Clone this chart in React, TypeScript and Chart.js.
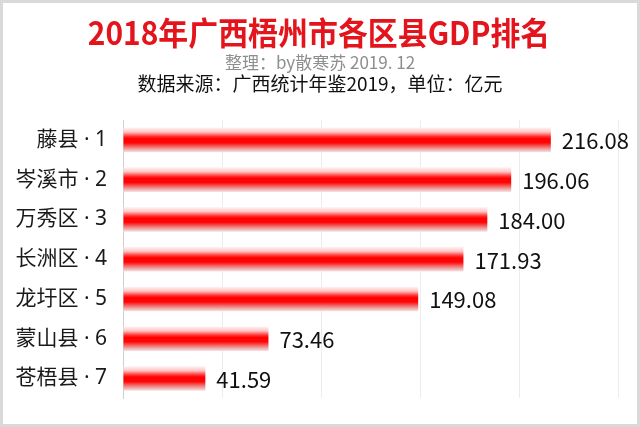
import React, { useEffect, useRef } from "react";
import { Chart, registerables } from "chart.js";

Chart.register(...registerables);

const categories = ["藤县", "岑溪市", "万秀区", "长洲区", "龙圩区", "蒙山县", "苍梧县"];
const ranks = [1, 2, 3, 4, 5, 6, 7];
const gdpValues = [216.08, 196.06, 184.0, 171.93, 149.08, 73.46, 41.59];
const xMin = 0;
const xMax = 250;
const xStep = 50;

const titleText = "2018年广西梧州市各区县GDP排名";
const subtitleText = "整理：by散寒苏 2019. 12";
const sourceText = "数据来源：广西统计年鉴2019，单位：亿元";

const FONT = '"Noto Sans CJK SC", "Noto Sans", sans-serif';
const LABEL_FONT = '"Noto Sans", "Noto Sans CJK SC", sans-serif';
const BAR_PCT = 0.62;

export default function App() {
  const canvasRef = useRef<HTMLCanvasElement | null>(null);

  useEffect(() => {
    const canvas = canvasRef.current;
    if (!canvas) return;

    const labels = categories.map((c, i) => `${c} · ${ranks[i]}`);

    const framePlugin = {
      id: "frameAndTitles",
      beforeDraw(chart: any) {
        const { ctx, width, height } = chart;
        ctx.save();
        ctx.fillStyle = "#ffffff";
        ctx.fillRect(0, 0, width, height);
        ctx.restore();
      },
      afterDraw(chart: any) {
        const { ctx, width, height } = chart;
        ctx.save();
        ctx.strokeStyle = "#d9d9d9";
        ctx.lineWidth = 3;
        ctx.strokeRect(1.5, 1.5, width - 3, height - 3);
        ctx.textAlign = "center";
        ctx.textBaseline = "middle";
        ctx.save();
        ctx.translate(319, 33);
        ctx.scale(0.935, 1);
        ctx.fillStyle = "#e3141c";
        ctx.font = `bold 32px ${FONT}`;
        ctx.fillText(titleText, 0, 0);
        ctx.restore();
        ctx.fillStyle = "#8e8e8e";
        ctx.font = `17px ${FONT}`;
        ctx.fillText(subtitleText, 320, 62.5);
        ctx.fillStyle = "#111111";
        ctx.font = `19px ${FONT}`;
        ctx.fillText(sourceText, 320, 84);
        ctx.restore();
      },
    };

    const valueLabelPlugin = {
      id: "valueLabels",
      afterDatasetsDraw(chart: any) {
        const { ctx } = chart;
        const meta = chart.getDatasetMeta(0);
        ctx.save();
        ctx.fillStyle = "#111111";
        ctx.font = `22px ${FONT}`;
        ctx.textAlign = "left";
        ctx.textBaseline = "middle";
        meta.data.forEach((el: any, i: number) => {
          ctx.fillText(gdpValues[i].toFixed(2), el.x + 11, el.y + 1);
        });
        ctx.restore();
      },
    };

    const chart = new Chart(canvas, {
      type: "bar",
      data: {
        labels,
        datasets: [
          {
            data: gdpValues,
            backgroundColor: (c: any) => {
              const ch = c.chart;
              const y = ch.scales && ch.scales.y;
              if (!y || !ch.chartArea || c.dataIndex === undefined) return "#ff0000";
              const center = y.getPixelForValue(c.dataIndex);
              const cat = Math.abs(y.getPixelForValue(1) - y.getPixelForValue(0)) || 41;
              const half = (cat * BAR_PCT) / 2;
              const g = ch.ctx.createLinearGradient(0, center - half, 0, center + half);
              g.addColorStop(0, "#fff4f4");
              g.addColorStop(0.18, "#ffc4c4");
              g.addColorStop(0.36, "#ff3030");
              g.addColorStop(0.45, "#ff0000");
              g.addColorStop(0.62, "#ff0606");
              g.addColorStop(0.8, "#f07a7a");
              g.addColorStop(1, "#f3e6e6");
              return g;
            },
            borderWidth: 0,
            barPercentage: BAR_PCT,
            categoryPercentage: 1,
          },
        ],
      },
      options: {
        indexAxis: "y",
        animation: false,
        responsive: true,
        maintainAspectRatio: false,
        layout: { padding: { top: 120, right: 22, bottom: 20, left: 0 } },
        plugins: {
          legend: { display: false },
          title: { display: false },
          tooltip: { enabled: false },
        },
        scales: {
          x: {
            min: xMin,
            max: xMax,
            ticks: { display: false, stepSize: xStep },
            grid: { color: "#ececec", drawTicks: false, lineWidth: 1 },
            border: { display: false },
            afterFit: (s: any) => {
              s.height = 0;
            },
          },
          y: {
            grid: { display: false, drawTicks: false },
            border: { display: true, color: "#cfcfcf", width: 1 },
            ticks: {
              color: "#1a1a1a",
              padding: 16,
              font: { family: LABEL_FONT, size: 21 },
            },
            afterFit: (s: any) => {
              s.width = 123;
            },
          },
        },
      },
      plugins: [framePlugin, valueLabelPlugin],
    } as any);

    return () => chart.destroy();
  }, []);

  return (
    <div
      style={{
        position: "fixed",
        left: 0,
        top: 0,
        width: 640,
        height: 427,
        background: "#ffffff",
      }}
    >
      <canvas ref={canvasRef} />
    </div>
  );
}
